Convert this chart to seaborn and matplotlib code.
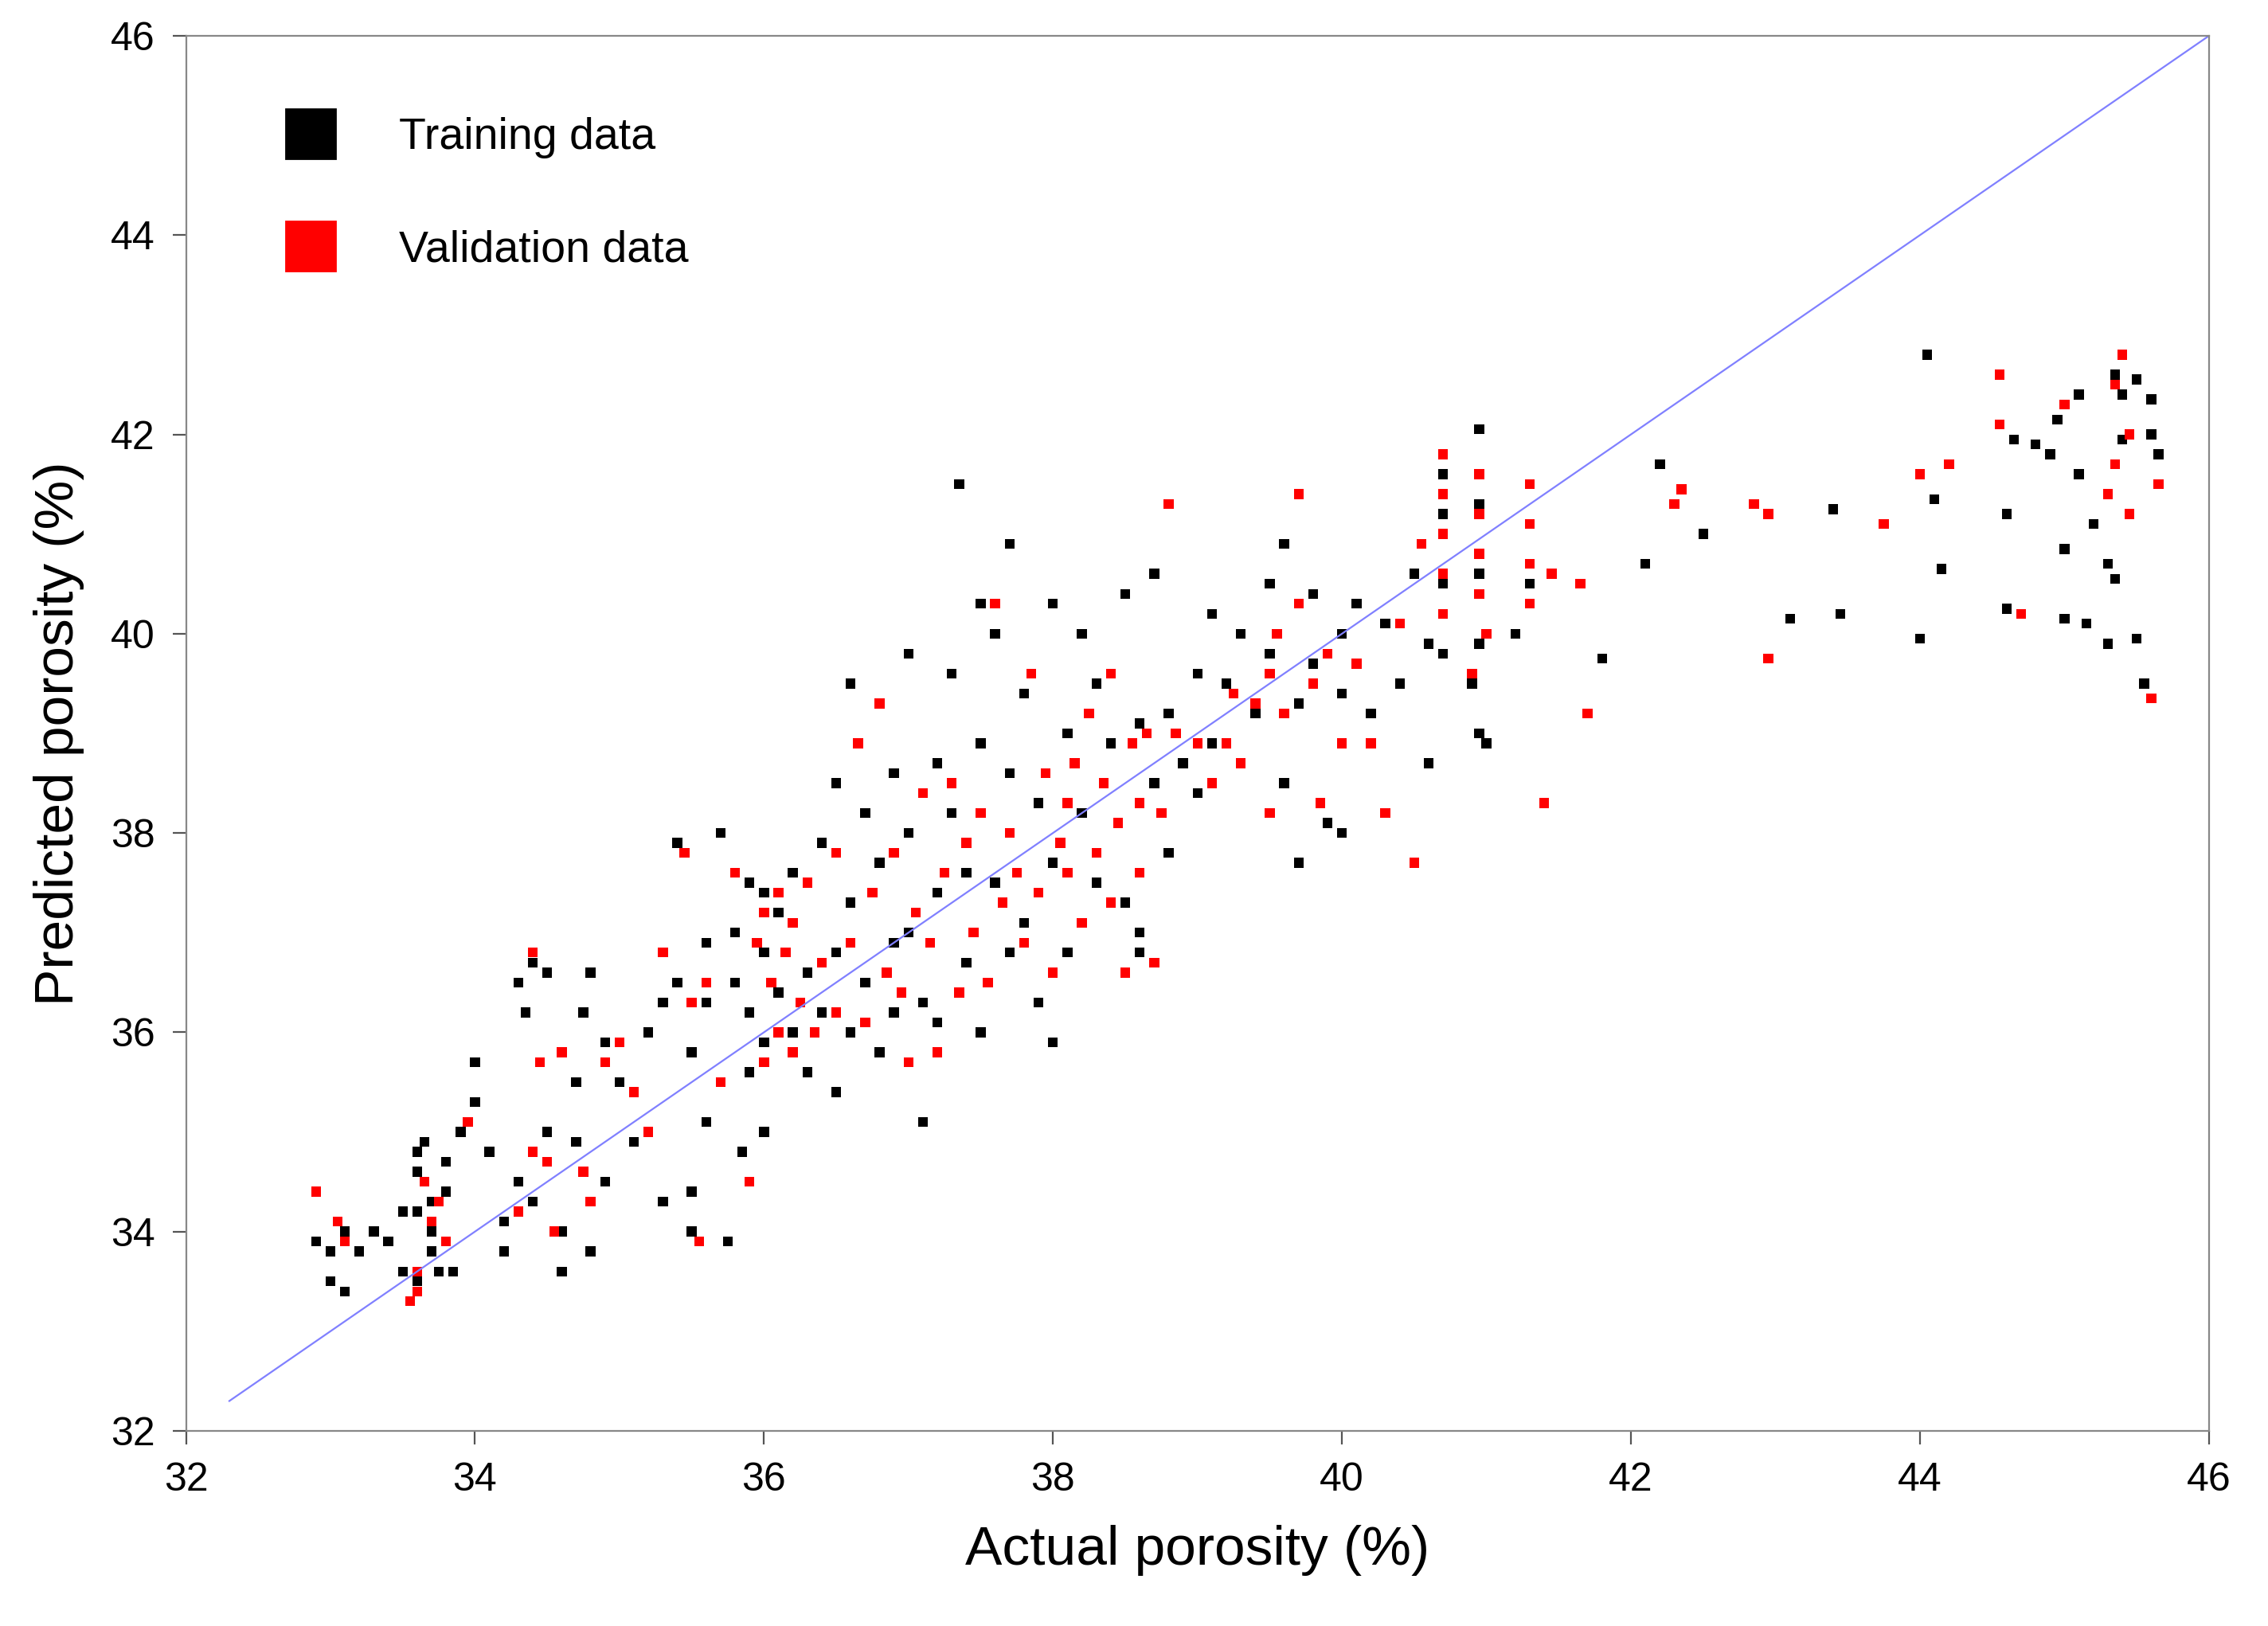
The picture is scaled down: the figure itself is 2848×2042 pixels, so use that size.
import matplotlib
matplotlib.use("Agg")
import matplotlib.pyplot as plt
import seaborn as sns
import pandas as pd
from matplotlib.lines import Line2D

train_pts = [(32.9,33.9),(33.0,33.5),(33.0,33.8),(33.1,33.4),(33.1,34.0),(33.2,33.8),
(33.3,34.0),(33.4,33.9),(33.5,33.6),(33.5,34.2),
(33.6,34.6),(33.6,34.2),(33.6,33.5),(33.65,34.9),(33.7,34.3),(33.7,33.8),(33.7,34.0),(33.75,33.6),(33.8,34.4),(33.8,34.7),(33.8,33.9),(33.85,33.6),(33.9,35.0),(33.6,34.8),
(34.0,35.7),(34.0,35.3),(34.1,34.8),(34.2,34.1),(34.2,33.8),(34.3,34.5),
(34.3,36.5),(34.35,36.2),(34.4,36.7),(34.4,34.3),(34.5,35.0),(34.5,36.6),
(34.6,33.6),(34.6,34.0),(34.7,34.9),(34.7,35.5),(34.75,36.2),(34.8,36.6),(34.8,33.8),(34.9,34.5),(34.9,35.9),
(35.0,35.5),(35.1,34.9),(35.2,36.0),(35.3,36.3),(35.3,34.3),
(35.4,37.9),(35.4,36.5),(35.5,35.8),(35.5,34.4),(35.5,34.0),(35.6,36.3),(35.6,36.9),(35.6,35.1),
(35.7,38.0),(35.7,35.5),(35.75,33.9),(35.8,36.5),(35.8,37.0),(35.85,34.8),(35.9,36.2),(35.9,37.5),(35.9,35.6),
(36.0,37.4),(36.0,36.8),(36.0,35.9),(36.0,35.0),(36.1,36.4),(36.1,37.2),(36.2,36.0),(36.2,37.6),(36.3,36.6),(36.3,35.6),
(36.4,37.9),(36.4,36.2),(36.5,38.5),(36.5,36.8),(36.5,35.4),(36.6,39.5),(36.6,37.3),(36.6,36.0),
(36.7,38.2),(36.7,36.5),(36.8,39.3),(36.8,37.7),(36.8,35.8),(36.9,38.6),(36.9,36.9),(36.9,36.2),
(37.0,39.8),(37.0,38.0),(37.0,37.0),(37.1,36.3),(37.1,35.1),(37.2,38.7),(37.2,37.4),(37.2,36.1),
(37.35,41.5),(37.3,39.6),(37.3,38.2),(37.4,37.6),(37.4,36.7),(37.5,40.3),(37.5,38.9),(37.5,36.0),
(37.6,40.0),(37.6,37.5),(37.7,40.9),(37.7,38.6),(37.7,36.8),(37.8,39.4),(37.8,37.1),(37.9,38.3),(37.9,36.3),
(38.0,40.3),(38.0,37.7),(38.0,35.9),(38.1,39.0),(38.1,36.8),(38.2,40.0),(38.2,38.2),(38.3,37.5),(38.3,39.5),
(38.4,38.9),(38.5,40.4),(38.5,37.3),(38.6,39.1),(38.6,36.8),(38.6,37.0),(38.7,38.5),(38.7,40.6),
(38.8,37.8),(38.8,39.2),(38.9,38.7),(39.0,39.6),(39.0,38.4),(39.1,40.2),(39.1,38.9),
(39.2,39.5),(39.3,40.0),(39.3,38.7),(39.4,39.2),(39.5,40.5),(39.5,39.8),(39.6,40.9),(39.6,38.5),
(39.7,39.3),(39.7,37.7),(39.8,40.4),(39.8,39.7),(39.9,38.1),(40.0,40.0),(40.0,39.4),(40.0,38.0),
(40.1,40.3),(40.2,39.2),(40.3,40.1),(40.4,39.5),(40.5,40.6),(40.6,38.7),(40.6,39.9),
(40.7,41.6),(40.7,41.2),(40.7,40.5),(40.7,39.8),(40.9,39.5),(40.95,42.05),(40.95,41.3),(40.95,40.6),(40.95,39.9),(40.95,39.0),(41.0,38.9),(41.2,40.0),(41.3,40.5),
(41.8,39.75),(42.1,40.7),(42.2,41.7),(42.5,41.0),(43.1,40.15),(43.4,41.25),(43.45,40.2),(44.0,39.95),(44.05,42.8),(44.1,41.35),(44.15,40.65),(44.6,40.25),(44.6,41.2),(44.65,41.95),(44.8,41.9),(44.9,41.8),(44.95,42.15),(45.0,40.85),(45.0,40.15),(45.1,41.6),(45.1,42.4),(45.15,40.1),(45.2,41.1),(45.3,39.9),(45.3,40.7),(45.35,40.55),(45.35,42.6),(45.4,42.4),(45.4,41.95),(45.5,42.55),(45.5,39.95),(45.55,39.5),(45.6,42.35),(45.6,42.0),(45.65,41.8)]

valid_pts = [(32.9,34.4),(33.05,34.1),(33.1,33.9),(33.55,33.3),(33.6,33.6),(33.65,34.5),(33.7,34.1),(33.75,34.3),(33.8,33.9),(33.6,33.4),(33.95,35.1),(34.3,34.2),(34.4,34.8),(34.4,36.8),(34.45,35.7),(34.5,34.7),(34.55,34.0),(34.6,35.8),(34.75,34.6),(34.8,34.3),(34.9,35.7),(35.0,35.9),(35.1,35.4),(35.2,35.0),(35.3,36.8),(35.45,37.8),(35.5,36.3),(35.55,33.9),(35.6,36.5),(35.7,35.5),(35.8,37.6),(35.9,34.5),(35.95,36.9),(36.0,37.2),(36.0,35.7),(36.05,36.5),(36.1,37.4),(36.1,36.0),(36.15,36.8),(36.2,37.1),(36.2,35.8),(36.25,36.3),(36.3,37.5),(36.35,36.0),(36.4,36.7),(36.5,36.2),(36.5,37.8),(36.6,36.9),(36.65,38.9),(36.7,36.1),(36.75,37.4),(36.8,39.3),(36.85,36.6),(36.9,37.8),(36.95,36.4),(37.0,35.7),(37.05,37.2),(37.1,38.4),(37.15,36.9),(37.2,35.8),(37.25,37.6),(37.3,38.5),(37.35,36.4),(37.4,37.9),(37.45,37.0),(37.5,38.2),(37.55,36.5),(37.6,40.3),(37.65,37.3),(37.7,38.0),(37.75,37.6),(37.8,36.9),(37.85,39.6),(37.9,37.4),(37.95,38.6),(38.0,36.6),(38.05,37.9),(38.1,38.3),(38.1,37.6),(38.15,38.7),(38.2,37.1),(38.25,39.2),(38.3,37.8),(38.35,38.5),(38.4,39.6),(38.4,37.3),(38.45,38.1),(38.5,36.6),(38.55,38.9),(38.6,37.6),(38.6,38.3),(38.65,39.0),(38.7,36.7),(38.75,38.2),(38.8,41.3),(38.85,39.0),(39.0,38.9),(39.1,38.5),(39.2,38.9),(39.25,39.4),(39.3,38.7),(39.4,39.3),(39.5,38.2),(39.5,39.6),(39.55,40.0),(39.6,39.2),(39.7,40.3),(39.7,41.4),(39.8,39.5),(39.85,38.3),(39.9,39.8),(40.0,38.9),(40.1,39.7),(40.2,38.9),(40.3,38.2),(40.4,40.1),(40.5,37.7),(40.55,40.9),(40.7,41.8),(40.7,41.4),(40.7,41.0),(40.7,40.6),(40.7,40.2),(40.9,39.6),(40.95,41.6),(40.95,41.2),(40.95,40.8),(40.95,40.4),(41.0,40.0),(41.3,41.5),(41.3,41.1),(41.3,40.7),(41.3,40.3),(41.4,38.3),(41.45,40.6),(41.65,40.5),(41.7,39.2),(42.3,41.3),(42.35,41.45),(42.85,41.3),(42.95,41.2),(42.95,39.75),(43.75,41.1),(44.0,41.6),(44.2,41.7),(44.55,42.6),(44.55,42.1),(44.7,40.2),(45.0,42.3),(45.3,41.4),(45.35,42.5),(45.35,41.7),(45.4,42.8),(45.45,42.0),(45.45,41.2),(45.6,39.35),(45.65,41.5)]

ticks = [32, 34, 36, 38, 40, 42, 44, 46]
line_x = [32.3, 46]

plt.rcParams["font.family"] = "Liberation Sans"
df = pd.DataFrame(
    [(x, y, "Training data") for x, y in train_pts] +
    [(x, y, "Validation data") for x, y in valid_pts],
    columns=["actual", "predicted", "set"])

fig = plt.figure(figsize=(14.24, 10.21), dpi=200)
ax = fig.add_axes([0.082, 0.12, 0.892, 0.858])
sns.scatterplot(data=df, x="actual", y="predicted", hue="set",
                palette={"Training data": "black", "Validation data": "#ff0000"},
                marker="s", s=20, linewidth=0, legend=False, ax=ax)
ax.plot(line_x, line_x, color="#8080ff", lw=0.8)
ax.set_xlim(32, 46); ax.set_ylim(32, 46)
ax.set_xticks(ticks); ax.set_yticks(ticks)
ax.tick_params(labelsize=18, direction="out", length=6, color="#555555", pad=8)
for s in ax.spines.values():
    s.set_color("#888888"); s.set_linewidth(0.8)
ax.set_xlabel("Actual porosity (%)", fontsize=25, labelpad=12)
ax.set_ylabel("Predicted porosity (%)", fontsize=25, labelpad=12)
handles = [Line2D([], [], marker="s", ls="", color="black", markersize=22),
           Line2D([], [], marker="s", ls="", color="#ff0000", markersize=22)]
ax.legend(handles, ["Training data", "Validation data"], loc="upper left",
          frameon=False, fontsize=20, labelspacing=1.6, handletextpad=1.0,
          bbox_to_anchor=(0.02, 0.97))
fig.savefig("out.png", dpi=200)
